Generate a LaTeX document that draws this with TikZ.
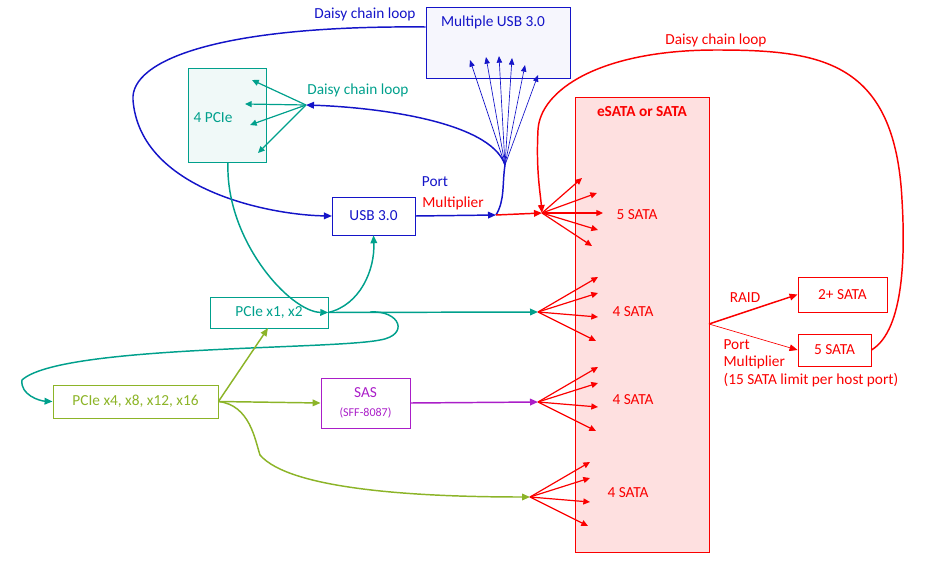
\documentclass[tikz,border=0pt]{standalone}
\usepackage{fontspec}
\setmainfont{Carlito}
\definecolor{UsbBlue}{RGB}{20,20,200}
\definecolor{PcieTeal}{RGB}{0,160,140}
\definecolor{SataRed}{RGB}{250,0,0}
\definecolor{PcieGreen}{RGB}{140,180,40}
\definecolor{SasPurple}{RGB}{170,30,200}
\usetikzlibrary{positioning}
\usetikzlibrary{calc}
\usetikzlibrary{arrows.meta}

\begin{document}
\begin{tikzpicture}[
    x = 0.75pt, y = -0.75pt
    , box/.style = {
      , draw
      , inner sep = 0pt
      , font = \fontsize{11.5}{13}\selectfont
    }
    , conn/.style = {
      , -{Triangle[length=6pt,width=5pt]}
      , line width = 1.1pt
    }
    , fan/.style = {
      , -{Triangle[length=5pt,width=4.5pt]}
      , line width = 0.9pt
    }
    , lbl/.style = {
      , font = \fontsize{11.5}{13}\selectfont
      , inner sep = 1pt
    }
    ]
    \useasboundingbox (0,0) rectangle (935,567);

    % boxes
    \node[box, draw=UsbBlue, fill=UsbBlue!4, minimum width=108pt, minimum height=53pt] (multi) at (498,42.5) {};
    \node[lbl, UsbBlue] at (493,22) {Multiple USB 3.0};
    \node[box, draw=PcieTeal, fill=PcieTeal!6, minimum width=58.5pt, minimum height=70.5pt] (pcie4) at (227,115) {};
    \node[lbl, PcieTeal] at (213,118) {4 PCIe};
    \node[box, draw=UsbBlue, text=UsbBlue, minimum width=62pt, minimum height=28.5pt] (usb) at (373.5,216) {USB 3.0};
    \node[box, draw=SataRed, fill=SataRed!12, minimum width=100.5pt, minimum height=341pt] (sata) at (642,324.5) {};
    \node[lbl, SataRed, font=\fontsize{11.5}{13}\selectfont\bfseries] at (642,112) {eSATA or SATA};
    \node[box, draw=PcieTeal, text=PcieTeal, minimum width=88.5pt, minimum height=23pt] (pcie12) at (269,312.5) {PCIe x1, x2};
    \node[box, draw=PcieGreen, text=PcieGreen, minimum width=124pt, minimum height=25pt] (pcie16) at (135.5,401.5) {PCIe x4, x8, x12, x16};
    \node[box, draw=SasPurple, text=SasPurple, minimum width=67pt, minimum height=37.5pt, align=center] (sas) at (365.5,403) {SAS\\[1pt]{\fontsize{9}{10}\selectfont(SFF-8087)}};
    \node[box, draw=SataRed, text=SataRed, minimum width=67pt, minimum height=26pt] (sata2) at (842.5,294.5) {2+ SATA};
    \node[box, draw=SataRed, text=SataRed, minimum width=55pt, minimum height=24pt] (sata5) at (834.5,350) {5 SATA};

    % fan hubs
    \coordinate (hubTeal) at (306,105);
    \coordinate (hubBlue) at (505,165);
    \coordinate (portIn) at (496,215);
    \coordinate (hubA) at (542,213);
    \coordinate (hubB) at (538,312);
    \coordinate (hubC) at (538,402);
    \coordinate (hubD) at (530,497);
    \coordinate (raidOut) at (709,324);

    % labels
    \node[lbl, UsbBlue] at (365,14) {Daisy chain loop};
    \node[lbl, PcieTeal] at (358,90) {Daisy chain loop};
    \node[lbl, SataRed] at (716,40) {Daisy chain loop};
    \node[lbl, UsbBlue] at (435,182) {Port};
    \node[lbl, SataRed] at (453,203) {Multiplier};
    \node[lbl, SataRed] at (637,215) {5 SATA};
    \node[lbl, SataRed] at (633,312) {4 SATA};
    \node[lbl, SataRed] at (633,400) {4 SATA};
    \node[lbl, SataRed] at (628,493) {4 SATA};
    \node[lbl, SataRed] at (745,298) {RAID};
    \node[lbl, SataRed, anchor=north west, align=left] at (722,338) {Port\\Multiplier\\(15 SATA limit per host port)};

    % blue
    \draw[conn, UsbBlue] (multi.west |- 0,27) .. controls (220,25) and (130,60) .. (133,100)
      .. controls (140,190) and (270,215) .. (usb.west);
    \draw[conn, UsbBlue] (usb.east) -- (portIn);
    \draw[UsbBlue, line width=1.1pt] (portIn) .. controls (505,200) and (502,185) .. (hubBlue);
    \draw[conn, UsbBlue] (hubBlue) .. controls (490,120) and (370,107) .. (hubTeal);
    \foreach \ex/\ey in {470/60, 486/57, 499/56, 512/58, 525/65, 538/75}
      \draw[-{Triangle[length=5pt,width=4pt]}, UsbBlue, line width=0.5pt] (hubBlue) -- (\ex,\ey);

    % teal
    \foreach \ex/\ey in {252/80, 245/104, 250/125, 258/153}
      \draw[fan, PcieTeal] (hubTeal) -- (\ex,\ey);
    \draw[conn, PcieTeal] (pcie4.south -| 228,0) .. controls (225,240) and (290,312) .. (pcie12.east);
    \draw[conn, PcieTeal] (pcie12.east) .. controls (360,305) and (375,270) .. (usb.south);
    \draw[conn, PcieTeal] (pcie12.east) -- (hubB);
    \draw[conn, PcieTeal] (370,312) .. controls (400,310) and (410,335) .. (380,340)
      .. controls (330,350) and (60,345) .. (22,380) .. controls (20,395) and (40,401) .. (pcie16.west);

    % green
    \draw[conn, PcieGreen] (pcie16.east) -- (pcie12.south -| 268,0);
    \draw[conn, PcieGreen] (pcie16.east) -- (sas.west);
    \draw[conn, PcieGreen] (pcie16.east) .. controls (250,405) and (255,440) .. (260,455)
      .. controls (290,490) and (420,497) .. (hubD);

    % purple
    \draw[conn, SasPurple] (sas.east) -- (hubC);

    % red
    \draw[conn, SataRed] (portIn) -- (hubA);
    \foreach \ex/\ey in {582/178, 597/193, 603/213, 598/230, 592/246}
      \draw[fan, SataRed] (hubA) -- (\ex,\ey);
    \foreach \hub in {hubB, hubC, hubD}
      \foreach \ex/\ey in {60/-35, 60/-19, 60/5, 58/29}
        \draw[fan, SataRed] (\hub) -- ++(\ex,\ey);
    \draw[conn, SataRed] (sata5.east) .. controls (905,330) and (905,250) .. (902,200)
      .. controls (895,60) and (820,50) .. (716,50) .. controls (600,50) and (540,90) .. (538,130)
      .. controls (536,170) and (540,190) .. (hubA);
    \draw[conn, SataRed] (raidOut) -- (sata2.west);
    \draw[-{Triangle[length=6pt,width=5pt]}, SataRed, line width=0.5pt] (raidOut) -- (sata5.west);
\end{tikzpicture}
\end{document}
